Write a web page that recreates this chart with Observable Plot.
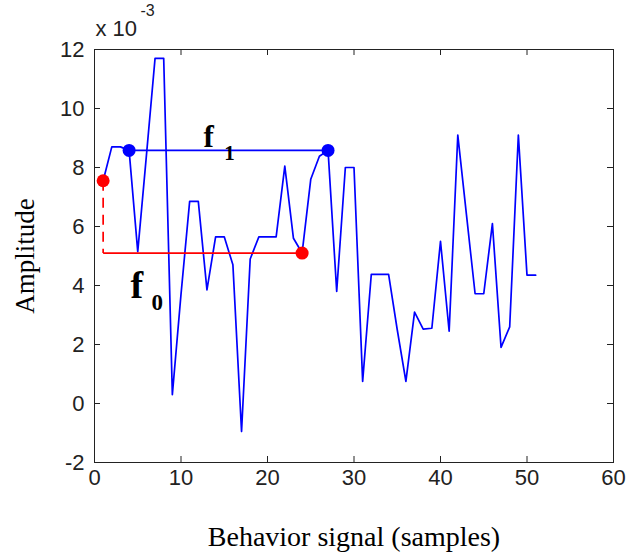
<!DOCTYPE html>
<html>
<head>
<meta charset="utf-8">
<script src="https://cdn.jsdelivr.net/npm/d3@7"></script>
<script src="https://cdn.jsdelivr.net/npm/@observablehq/plot@0.6"></script>
<style>
  html, body { margin: 0; padding: 0; background: #fff; }
  #chart { width: 626px; height: 559px; }
</style>
</head>
<body>
<div id="chart"></div>
<script>
// Sample index (1..51) and amplitude values (x 10^-3)
const samples = [1,2,3,4,5,6,7,8,9,10,11,12,13,14,15,16,17,18,19,20,21,22,23,24,25,26,27,28,29,30,31,32,33,34,35,36,37,38,39,40,41,42,43,44,45,46,47,48,49,50,51];
const amplitude = [7.55,8.7,8.7,8.58,5.15,8.4,11.7,11.7,0.3,3.7,6.85,6.85,3.85,5.65,5.65,4.7,-0.95,4.9,5.65,5.65,5.65,8.05,5.6,5.1,7.6,8.38,8.58,3.8,8.0,8.0,0.75,4.38,4.38,4.38,2.5,0.75,3.1,2.52,2.55,5.5,2.45,9.1,6.4,3.72,3.72,6.1,1.9,2.6,9.1,4.35,4.35];

// Annotation: f1 (blue) and f0 (red) levels
const f1X = [4, 27];
const f1Y = [8.58, 8.58];
const f0X = [1, 24];
const f0Y = [7.55, 5.1];

// Tick values / labels
const xTicks = [0,10,20,30,40,50,60];
const yTicks = [-2,0,2,4,6,8,10,12];

// Annotation labels (text, data position)
const labelText = ["f", "1", "f", "0"];
const labelX = [12.6, 15.0, 4.16, 6.6];
const labelY = [8.69, 8.27, 3.57, 3.16];
const labelSize = [31, 21, 38, 23];

const signal = samples.map((s, i) => ({x: s, y: amplitude[i]}));
const f1Pts = f1X.map((x, i) => ({x, y: f1Y[i]}));
const f0Pts = f0X.map((x, i) => ({x, y: f0Y[i]}));
const f0Dashed = [{x1: f0X[0], y1: f0Y[0], x2: f0X[0], y2: f0Y[1]}];
const f0Solid = [{x1: f0X[0], y1: f0Y[1], x2: f0X[1], y2: f0Y[1]}];
const f1Solid = [{x1: f1X[0], y1: f1Y[0], x2: f1X[1], y2: f1Y[1]}];
const labels = labelText.map((t, i) => ({t, x: labelX[i], y: labelY[i], s: labelSize[i]}));

const W = 626, H = 559;
const mL = 94, mR = 13, mT = 49, mB = 97;
const fw = W - mL - mR, fh = H - mT - mB;
const tk = 6;
const sans = "'Liberation Sans Narrow', 'Arial Narrow', 'Liberation Sans', Arial, sans-serif";
const serif = "'Liberation Serif', 'Times New Roman', serif";

const plot = Plot.plot({
  width: W,
  height: H,
  marginLeft: mL,
  marginRight: mR,
  marginTop: mT,
  marginBottom: mB,
  style: {fontFamily: sans, fontSize: "22px", color: "#222", background: "#fff", overflow: "visible"},
  x: {domain: [0, 60], label: null},
  y: {domain: [-2, 12], label: null},
  marks: [
    // inward ticks on all four sides
    Plot.tickX(xTicks, {x: d => d, insetTop: fh - tk, stroke: "#222"}),
    Plot.tickX(xTicks, {x: d => d, insetBottom: fh - tk, stroke: "#222"}),
    Plot.tickY(yTicks, {y: d => d, insetRight: fw - tk, stroke: "#222"}),
    Plot.tickY(yTicks, {y: d => d, insetLeft: fw - tk, stroke: "#222"}),
    Plot.axisX(xTicks, {tickSize: 0, tickPadding: 7, tickFormat: d => String(d), fontSize: 22, fill: "#222"}),
    Plot.axisY(yTicks, {tickSize: 0, tickPadding: 10, tickFormat: d => String(d), fontSize: 22, fill: "#222"}),
    Plot.frame({stroke: "#222", strokeWidth: 1}),
    // signal
    Plot.line(signal, {x: "x", y: "y", stroke: "#0000ff", strokeWidth: 1.7}),
    // f1 level
    Plot.link(f1Solid, {x1: "x1", y1: "y1", x2: "x2", y2: "y2", stroke: "#0000ff", strokeWidth: 1.7}),
    Plot.dot(f1Pts, {x: "x", y: "y", r: 6.5, fill: "#0000ff", stroke: null}),
    // f0 level
    Plot.link(f0Dashed, {x1: "x1", y1: "y1", x2: "x2", y2: "y2", stroke: "#ff0000", strokeWidth: 1.7, strokeDasharray: "10,7"}),
    Plot.link(f0Solid, {x1: "x1", y1: "y1", x2: "x2", y2: "y2", stroke: "#ff0000", strokeWidth: 1.7}),
    Plot.dot(f0Pts, {x: "x", y: "y", r: 6.5, fill: "#ff0000", stroke: null}),
    // f labels
    Plot.text(labels, {x: "x", y: "y", text: "t", fontSize: d => d.s, fontFamily: serif, fontWeight: "bold", textAnchor: "start", lineAnchor: "bottom", fill: "#000"}),
    // exponent
    Plot.text(["x 10"], {frameAnchor: "top-left", text: d => d, textAnchor: "start", lineAnchor: "bottom", dx: 1, dy: -14, fontSize: 22, fill: "#222"}),
    Plot.text(["-3"], {frameAnchor: "top-left", text: d => d, textAnchor: "start", lineAnchor: "bottom", dx: 46, dy: -34, fontSize: 16, fill: "#222"}),
    // axis titles
    Plot.text(["Behavior signal (samples)"], {frameAnchor: "bottom", text: d => d, textAnchor: "middle", lineAnchor: "bottom", dy: 83, fontFamily: serif, fontSize: 28, fill: "#000"}),
    Plot.text(["Amplitude"], {frameAnchor: "left", text: d => d, rotate: -90, textAnchor: "middle", lineAnchor: "middle", dx: -69, fontFamily: serif, fontSize: 27, fill: "#000"})
  ]
});
document.getElementById("chart").appendChild(plot);
</script>
</body>
</html>
